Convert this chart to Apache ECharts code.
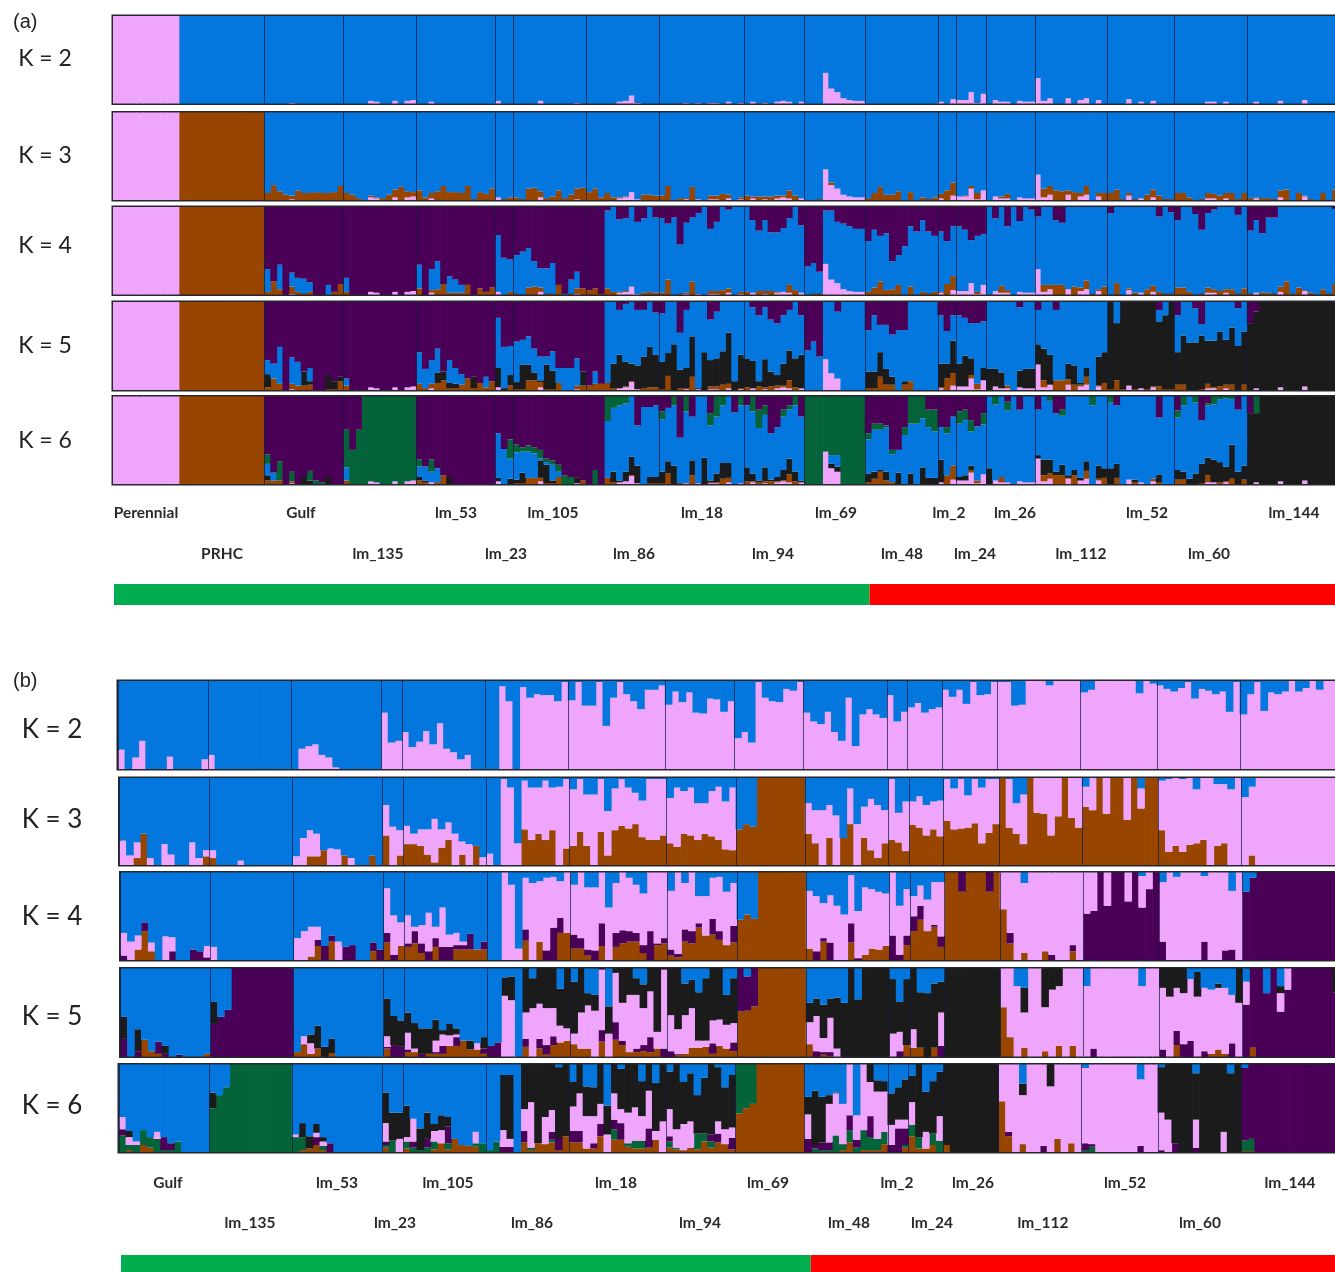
<!DOCTYPE html>
<html><head><meta charset="utf-8">
<style>html,body{margin:0;padding:0;background:#fff}#c{width:1335px;height:1272px}</style>
<script src="https://cdn.jsdelivr.net/npm/echarts@6/dist/echarts.min.js"></script>
</head><body><div id="c"></div>
<script>
// Populations in plot order (Perennial and PRHC only occur in panel a)
const populations=['Gulf','lm_135','lm_53','lm_23','lm_105','lm_86','lm_18','lm_94','lm_69','lm_48','lm_2','lm_24','lm_26','lm_112','lm_52','lm_60','lm_144'];
const popSizesA=[13,12,13,3,12,12,14,10,10,12,3,5,8,12,11,12,15];
const popSizesB=[13,12,13,3,12,12,14,10,10,12,3,5,8,12,11,12,14];
const leadSizes=[11,14]; // Perennial, PRHC

// All values below: cumulative top of a cluster in each individual's bar (%), one row per population.
// A single number means that value for every individual of the population.
const aPink=[[0,0,0,0,1],[0,0,0,0,3,2,0,0,3,0,3,4],[0,0,2],[3],[0,0,0,0,3,0,0,0,0,0,1],[0,0,0,0,0,2,3,9,1],[0,0,0,0,1,0,1,0,1,1,0,2,0,1],[0,2,0,1,0,2,3,2,0,2],[0,0,0,35,17,13,6,4,3,3],0,[2,0,5],[4,4,13,1,11],[0,4,2,2,0,3,2,2],[29,3,6,0,0,6,0,4,6,0,4,0],[0,0,0,5,0,2,0,3],[0,0,0,0,0,2,2,0,2],[0,2,0,0,0,3,0,0,0,4]];
const aK5Lm69Pink=[0,0,0,35,19,13];
const aK6Lm69Pink=[0,0,0,37,18,14];
const aK3Brown=[[8,17,10,6,5,11,8,8,9,8,8,9,16],[8,6,2,0,5,3,2,6,12,15,10,9],[11,3,8,10,16,9,9,8,16,1,9,7,13],[3,1,3],[3,1,13,14,10,2,4,11,2,6,13,14],[9,13,3,8,3,3,4,9,1,6,6,5],[5,16,0,2,2,15,1,0,5,5,7,6,0,3],[5,4,4,4,4,5,5,11,5,2],[0,0,1,35,20,13,6,4,3,3],[2,8,15,6,6,10,0,9,0,3,1,3],[7,11,20],[4,5,16,8,11],[0,4,4,7,0,3,2,2],[29,13,16,11,10,11,9,8,16,0,8,8],[8,12,1,8,1,2,6,12,5,1,1],[8,8,3,0,1,8,7,5,8,8,1,8],[2,3,2,2,1,11,12,0,8,5,1,0,8,0,12]];
const aK4Brown=[[3,15,6,0,9,3,1,3,0,0,0,3,12],[3],[7,0,5,6,12,2,2,2,11,0,7,3,8],[3,0,3],[1,0,8,9,8,1,1,11,0,1,7,7],[5,7,1,7,3,3,4,9,1,2,3,2],[2,17,0,1,2,15,1,0,4,4,5,7,0,3],[3,2,4,4,4,3,3,11,5,2],[0,1,1,0,0],[3,8,15,5,6,11,0,9,0,3,1,3],[3,12,21],[4,4,13,3,11],[0,2,10,5,0,3],[29,11,11,11,11,6,9,8,16,1,6,9],[0,13,0,7,2,2,6,10,3,1,1],[8,8,3,0,1,8,6,4,6,6,1,7],[1,2,2,2,1,9,15,1,8,5,2,0,6,1,12]];
const aK4Blue=[[29,15,34,0,25,19,18,14,0,0,11,3,12],[19],[34,0,29,38,12,21,17,11,11,0,7,3,8],[68,42,40],[45,49,53,38,30,30,36,11,1,17,26,7],[5,7,1,96,100,86,87,100,83,87,100,88],[87,81,88,57,82,88,93,100,75,83,100,97,100,100],[100,85,73,85,71,71,76,87,100,79],[32,36,26,96,96,83,81,78,75,75],[61,74,67,70,38,45,55,78,72,85,72,67],[72,61,78],[78,74,62,67,69],[100,87,100,78,100,84,100,97],[89,100,100,85,82,100,100,100,100,100,100,100],[93,100,100,100,100,100,100,100,89,100,94],[85,100,100,92,74,93,97,100,100,100,91,100],[73,85,70,88,88,100,100,100,100,100,100,100,100,100,98]];
const aK5Brown=[[3,13,7,0,7,5,5,6,0,0,1,1,10],[5],[7,2,7,8,11,2,2,6,13,2,8,3,10],[3,0,5],[1,1,11,11,9,1,1,8,0,0,5,5],[5,7,7,8,2,2,4,10,1,2,3,3],[1,16,0,2,2,15,1,0,4,4,6,7,0,2],[3,2,4,3,4,5,5,11,3,2],0,[2,2,15,6,6,0,6,10],[3,13,19],[4,4,17,7,11],[0,2,2,5,0,1,1,1],[29,11,5,11,11,12,6,6,15,0,5,8],[1,11,1,3,1,1,1,4,4,1,1],[6,6,0,0,1,7,3,4,6,6,0,6],[0,0,0,0,0,0,0,0,0,2]];
const aK5Black=[[18,13,7,0,7,5,21,10,0,0,17,10,15],[5],[7,2,7,20,21,8,7,6,13,15,8,3,10],[25,2,17],[9,29,29,20,11,29,22,8,0,0,5,21],[5,7,7,8,30,40,32,30,28,38,49,40],[32,42,52,23,25,61,2,43,34,36,44,65,10,40],[36,33,10,35,21,17,30,45,36,40],0,[21,21,43,24,15,0,10,10],[30,30,56],[30,39,36,7,25],[24,24,20,5,0,22,24,24],[52,47,40,11,11,30,28,8,25,0,38,43],[100,76,100,100,100,100,100,100,78,85,100],[43,62,54,54,62,56,56,66,57,71,50,66],[76,89,100,100,100,100,100,100,100,100,100,100,100,100,100]];
const aK5Blue=[[34,30,49,0,37,32,21,25,0,0,17,10,15],[13],[43,24,34,47,21,34,25,18,13,15,8,15,10],[82,49,50],[55,57,61,47,38,38,44,25,25,25,36,21],[5,21,7,100,100,91,98,100,91,91,100,88],[87,100,100,65,91,100,100,100,80,89,100,100,100,100],[100,94,85,94,80,76,85,91,100,85],[45,55,38,100,100,89,100,100,100,100],[68,85,74,74,63,68,68,100,100,100,100,100],[85,67,85],[85,82,76,76,78],[100,100,100,100,100,94,100,100],[91,100,100,91,100,100,100,100,100,100,100,100],[100,100,100,100,100,100,100,100,91,100,100],[85,100,100,93,75,100,100,100,100,100,93,100],[76,89,100,100,100,100,100,100,100,100,100,100,100,100,100]];
const aK6Brown=[[4,4,4,0,3],[4],[4,2,2,2,10],[3],[1,1,7,7,7,1,1,8,0,0,0,4],[0,0,0,7,2,1,2,10,1,0,1,1],[1,12,0,1,1,10,1,0,2,2,6,7,0,1],[3,3,2,3,3,3,4,11,3,1],0,[2,6,14,4,2],[0,10,21],[4,2,16,4,10],[0,2,8,0,0,2],[29,10,12,10,10,7,10,3,15,0,6,7],[0,7,0,3,2,1,0,6,2],[5,5,0,0,1,10,2,2,3,6,0,5],0];
const aK6Black=[[10,4,4,0,3,0,8,4,0,0,8],[4],[8,4,2,2,10,8],[7,0,6],[5,13,7,7,27,22,4,8,0,0,7,4],[0,0,0,7,14,4,14,31,21,0,8,8],[14,26,21,0,0,27,0,30,4,12,24,24,0,0],[19,12,4,19,5,8,16,29,14,4],[0,0,0,37,23,20],[12,14,16,14,0,13,0,12,0,19,7,7],[28,10,21],[8,10,21,0,0],[18,2,8,0,0,2],[33,28,28,14,22,10,16,7,26,0,21,18],[18,23,0,1,5,0,0,0,11],[16,14,6,12,23,30,28,25,20,45,14,21],[81,81,100,100,100,100,100,100,100,100,100,100,100,100,100]];
const aK6Blue=[[23,13,4,0,3,0,8,4,0,0,8],[19],[20,20,14,18,10,8],[58,40,29],[36,37,37,35,29,25,22,14,0,0,7,4],[0,0,0,72,87,90,92,100,67,88,88,90],[74,87,90,53,83,77,100,100,67,77,90,100,82,90],[90,83,64,79,58,65,77,85,90,77],[0,0,0,37,33,33],[51,62,62,65,34,39,56,69,69,75,65,60],[65,58,77],[69,73,60,66,68],[100,91,100,84,100,85,100,100],[85,100,95,81,78,100,100,100,100,90,100,100],[93,90,100,100,100,100,100,100,76,100,100],[76,90,100,93,73,90,91,97,98,97,85,100],[81,81,100,100,100,100,100,100,100,100,100,100,100,100,100]];
const aK6Green=[[34,13,26,0,14,0,8,15,4,2,8],[62,39,62,100,100,100,100,100,100,100,100,100],[28,20,28,18,10,8],[58,40,51],[45,42,44,42,39,29,27,22,10,8,7,4],[0,16,0,100,100,100,100,100,67,88,88,90],[83,87,100,53,100,77,100,100,81,100,100,100,82,100],[90,100,85,90,58,65,85,90,100,77],100,[58,69,69,67,39,39,65,100,100,100,85,85],[65,65,77],[83,85,73,66,81],[100,100,100,94,100,85,100,100],[85,100,100,81,85,100,100,100,100,100,100,100],[100,90,100,100,100,100,100,100,76,100,100],[84,100,100,100,73,92,100,100,100,100,85,100],[81,100,100,100,100,100,100,100,100,100,100,100,100,100,100]];

const bK2Pink=[[22,0,13,32,0,0,0,14,0,0,0,0,11],[16],[0,23,26,28,16,13,2],[64,30,32],[42,25,31,43,28,52,23,19,11,16],[0,0,94,77,0,93,81,85,84,84,77,99],[78,99,72,72,99,49,81,99,85,77,68,90,90,95],[73,88,76,87,64,63,80,79,65,77],[35,42,30,99,81,77,76,91,89,99],[64,54,51,65,42,32,81,26,62,68,62,58],[84,54,65],[70,75,64,68,70],[90,82,90,74,99,84,85,99],[99,99,72,73,100,100,100,95,100,100,100,100],[87,90,100,100,100,100,100,100,86,100,97],[95,91,88,92,99,80,91,89,85,88,65,99],[62,85,99,66,87,85,88,100,88,92,100,90,100,100]];
const bK3Brown=[[0,0,8,36,0,0,0,0,0,0,0,0,10],[8],[0,0,10,10,17,0,0,11,0,0,0,11],[34,0,11],[24,24,22,12,3,20,29,0,12,0,22],[0,0,0,0,0,41,29,36,29,40,0,19],[22,38,22,0,38,11,40,45,42,47,32,29,29,34],[25,21,36,34,29,36,33,29,18,17],[41,47,44,100,100,100,100,100,100,100],[36,25,0,31,0,31,47,0,31,17,8,25],[29,26,16],[46,43,34,41,33],[51,41,42,43,48,25,37,47],[100,43,36,24,100,60,59,34,56,100,54,43],[67,63,100,59,100,100,52,100,65,100,100],[40,15,22,15,23,25,29,0,22,25],[0,11]];
const bK3Pink=[[28,11,26,36,8,0,24,12,0,0,26,8,17],[17,0,0,0,5],[10,31,40,36,17,19,18,11,8,0,0,11],[69,44,40],[45,36,41,41,53,41,49,36,27,24,22,9],[13,0,99,89,25,97,89,89,97,89,90,99],[87,99,81,81,99,62,88,99,89,83,74,99,99,99],[77,89,85,89,71,71,85,90,73,89],0,[71,63,63,69,57,31,88,47,67,76,69,63],[99,60,73],[73,79,69,73,74],[99,88,99,80,99,89,99,99],[100,99,71,81,100,100,100,100,100,100,100,100],[90,100,100,100,100,100,100,100,88,100,100],[97,99,100,99,100,87,100,100,93,93,87,100],[78,90,100,100,100,100,100,100,100,100,100,100,100,100]];
const bK4Brown=[[0,0,12,33,10],0,[0,0,4,16,0,21,0,0,0,0,0,10],[20,0,16],[15,19,8,0,15,0,0,12,12,12,12,12],[0,0,0,0,0,22,0,21,0,0,31,31],[13,13,5,0,16,0,15,19,21,21,8,0,17,19],[5,3,21,19,37,28,29,23,17,20],[46,52,47,100,100,100,100,100,100,100],[13,0,21,0,0,0,20,0,6,13,12,16],[0,0,17],[33,46,33,38,15],[100,100,78,100,100,100,78,100],[58,19,0,8,0,0,10,0,0,0,10],0,0,0];
const bK4Purple=[[5,0,12,43,10,0,0,10,0,0,12,10,3],0,[0,0,4,23,16,28,0,15,17,0,0,20,12],[31,6,16],[19,33,19,10,25,15,15,17,17,30,12,21],[0,0,0,0,0,35,0,21,11,37,48,31],[29,25,12,11,42,0,31,34,33,31,17,33,19,25],[12,7,35,33,42,28,47,33,17,39],0,[13,10,25,20,0,0,42,2,6,13,12,16],[28,6,28],[50,62,33,40,27],100,[58,31,0,8,0,0,10,6,0,0,17],[53,56,100,62,100,100,67,100,60,81,100],[21,0,0,0,0,0,21,0,0,11,12],[78,94,100,100,100,100,100,100,100,100,100,100,100,100]];
const bK4Pink=[[31,21,28,43,20,0,27,26,0,0,12,10,16],[15],[25,33,38,38,16,28,21,15,17,0,0,20,12],[82,51,43],[51,38,40,54,38,60,29,31,21,30,12,21],[0,0,100,86,13,94,88,90,94,95,90,100],[86,100,83,83,100,60,88,100,94,86,76,100,100,100],[79,100,88,100,73,73,94,95,78,88],0,[79,73,65,74,62,52,97,56,83,81,78,76],[100,62,81],[73,85,69,89,89],0,[100,100,100,88,100,100,100,100,100,100,100,100],[100,100,100,100,100,100,100,100,96,100,100],[89,100,95,100,100,100,96,100,100,100,79,100],[78,94,100,100,100,100,100,100,100,100,100,100,100,100]];
const bK5Brown=[[0,0,0,19,6,3,0,0,0,0,0,0,3],0,[5,14,3,9,0,4],[9],[5,5,0,3,3,3,12,12,18,8,8,3],[0,0,0,0,0,11,0,9,2,13,16,18],[14,9,9,0,17,0,19,13,5,5,6,5,9,0],[0,2,3,10,10,11,3,12,9,6],[51,52,57,100,100,100,100,100,100,100],[14,0,2,1],[0,0,13],[10,10,0,10,0],0,[56,22,0,10,0,0,6,0,12,0,12],0,[0,0,13,0,0,0,0,3,8,3],[0,10]];
const bK5Purple=[[20,0,6,19,6,17,3,0,2,0,0,0,3],[37,45,53,100,100,100,100,100,100,100,100,100],[5,14,3,9,0,4],[11,13,11],[8,5,3,3,5,12,12,22,18,8,8,9],[12,16,0,0,0,20,0,20,13,23,16,18],[14,9,9,0,30,0,39,18,5,9,13,22,9,9],[6,3,3,10,10,11,15,12,9,16],[100,91,100,100,100,100,100,100,100,100],[14,6,5,5],[0,6,0],[10,10,0,10,12],0,0,[0,9],[8,0,29,14,18,0,6,3,8,3,15],[59,100,100,72,100,51,76,100,100,100,100,100,100,73]];
const bK5Pink=[[20],0,[5,23,15,9,0,4],[23,13,11],[27,9,3,3,18,25,24,25,18,8,15,9],[12,16,69,64,0,50,55,60,55,55,35,32],[26,50,58,52,99,26,95,61,70,70,55,74,28,99],[47,31,47,55,18,18,41,42,36,38],0,[39,46,21,44,9],[26,28,13],[31,10,0,10,50],0,[100,100,80,50,100,100,56,76,80,100,100,100],[80,100,100,100,100,100,100,100,80,100,100],[78,68,78,72,88,68,78,76,78,78,70,61],[85,100,100,72,100,72,100,100,100,100,100,100,100,73]];
const bK5Black=[[45,0,31,19,6,17,12,0,2,0,0,0,3],[62,45,53,100,100,100,100,100,100,100,100,100],[5,23,25,35,11,20],[66,46,41],[50,38,32,32,42,30,37,32,18,18,15,22],[12,16,90,91,0,100,89,100,100,100,77,100],[85,100,72,70,100,57,100,100,100,89,82,100,100,100],[100,100,83,87,73,89,100,100,70,89],0,[61,66,59,66,67,61,100,65,100,100,100,100],[88,62,88],[100,73,72,83,85],100,[100,100,80,78,100,100,100,100,100,100,100,100],0,[100,100,100,100,88,96,78,76,83,78,70,100],[85,100,100,72,100,80,100,100,100,100,100,100,100,100]];
const bK6Brown=[[0,2,0,8,5],0,[0,2,4,8,2],[5],[4,0,0,0,3,10,3,15,8,7,6],[0,0,0,0,0,11,2,10,9,11,2,18],[11,11,4,4,18,0,14,14,6,4,4,5,14,0],[5,3,2,5,3,12,5,11,9,3],[44,50,55,100,100,100,100,100,100,100],[0,0,0,0,0,2,11,0,2,2,2,9],[0,0,5],[18,4,4,8,0],[8],[58,18,0,9,0,0,0,0,15,0,10],0,0,[1,1]];
const bK6Green=[[19,8,8,25,17,15,2,2,12],[50,65,74,100,100,100,100,100,100,100,100,100],[17,17,4,8,7],[8,13],[12,5,2,5,12,10,10,15,8,7,10,10],[2,12,0,0,0,11,5,10,9,14,2,18],[11,11,4,4,18,0,26,14,10,13,13,5,14,0],[12,5,2,5,21,21,12,11,9,3],100,[0,4,2,2,19,9,25,5,25,17,15,23],[0,0,8],[31,17,4,21,13],0,0,[2,6],0,[13,15]];
const bK6Purple=[[26,8,8,25,17,15,17,10,12],0,[17,17,4,17,7,10],[12,13,0],[12,12,2,15,12,10,29,15,8,7,10,10],[0,0,6,6,0,24,5,10,9,23,16,18],[24,24,4,10,32,0,37,33,10,13,13,27,14,0],[18,5,2,5,21,21,20,21,9,16],0,[15,8,11,11,19,9,42,14,25,41,15,23],[8,27,27],[31,17,4,21,13],0,[58,23,0,9,0,0,7,0,15,0,10],[10,9,0,0,0,0,0,0,7],[2,0,10,0,0,5],[96,100,100,100,100,100,100,100,100,100,100,100,100,100]];
const bK6Pink=[[40,17,12,25,17,23,17,10,12],0,[20,17,4,22,12,10],[33,13,15],[17,38,2,15,24,25,29,15,8,7,23,10],[2,12,25,15,0,49,57,10,40,48,16,18],[52,67,41,41,55,20,67,49,45,51,41,70,24,35],[49,26,32,35,21,21,20,35,26,28],0,[43,8,11,55,67,55,100,42,100,80,69,69],[31,37,37],[57,17,23,21,41],0,[100,100,100,65,100,100,100,75,100,100,100,100],[96,100,100,100,100,100,100,100,83,100,100],[45,37,10,0,0,37,0,0,0,23],[96,100,100,100,100,100,100,100,100,100,100,100,100,100]];
const bK6Black=[[40,24,12,25,17,23,17,10,12],[68,65,74,100,100,100,100,100,100,100,100,100],[20,33,18,32,17,10],[68,45,45],[53,38,27,45,32,42,40,15,8,7,23,10],[2,12,88,88,0,100,100,100,100,100,97,100],[80,100,75,74,100,53,100,95,100,100,81,100,79,100],[92,100,80,90,65,85,100,97,74,88],0,[63,70,63,65,68,55,100,42,100,100,82,81],[67,74,83],[87,100,69,81,92],100,[100,100,100,78,100,100,100,100,100,100,100,100],0,[97,100,100,100,100,90,100,100,100,100,90,100],[96,100,100,100,100,100,100,100,100,100,100,100,100,100]];

const statusCountsA=[125,77];
const statusCountsB=[100,76];
const kLabels=['K = 2','K = 3','K = 4','K = 5','K = 6'];
const labelsRowA1=['Perennial','Gulf','lm_53','lm_105','lm_18','lm_69','lm_2','lm_26','lm_52','lm_144'];
const labelsRowA2=['PRHC','lm_135','lm_23','lm_86','lm_94','lm_48','lm_24','lm_112','lm_60'];
const labelsRowB1=['Gulf','lm_53','lm_105','lm_18','lm_69','lm_2','lm_26','lm_52','lm_144'];
const labelsRowB2=['lm_135','lm_23','lm_86','lm_94','lm_48','lm_24','lm_112','lm_60'];

// ---- styling / layout ----
const C={pink:'#EFA5FB',brown:'#984500',blue:'#0377DD',purple:'#4B0057',black:'#1B1B1B',green:'#05633A',okGreen:'#00AE4F',red:'#FF0000'};
const labelXA1=[146,301,456,553,702,836,949,1015,1147,1294], labelXA2=[222,378,506,634,773,902,975,1081,1209];
const labelXB1=[168,337,448,616,768,897,973,1125,1290], labelXB2=[250,395,532,700,849,932,1043,1200];
const rowsA=[[113,16,103.5],[113,112.5,200],[113,207,294.5],[113,302,390],[113,396.5,484]];
const rowsB=[[118,681,769],[119.5,778,865],[120.5,872.5,960],[120.5,968.5,1056.5],[119,1064.5,1152]];
const kYA=[59,156,246,346,441], kYB=[730,820,917,1017,1106];
const barA=6.065, barB=6.926;

function expand(rows,sizes){
  return rows.flatMap((p,i)=>{
    const n=sizes[i];
    if(typeof p==='number') return Array(n).fill(p);
    const o=p.slice(0,n); while(o.length<n) o.push(0); return o;
  });
}
const aPinkK5=[...aPink.slice(0,8),aK5Lm69Pink,...aPink.slice(9)];
const aPinkK6=[...aPink.slice(0,8),aK6Lm69Pink,...aPink.slice(9)];
const panelsA=[
 {layers:[['pink',aPink]],rest:'blue'},
 {layers:[['pink',aPink],['brown',aK3Brown]],rest:'blue'},
 {layers:[['pink',aPink],['brown',aK4Brown],['blue',aK4Blue]],rest:'purple'},
 {layers:[['pink',aPinkK5],['brown',aK5Brown],['black',aK5Black],['blue',aK5Blue]],rest:'purple'},
 {layers:[['pink',aPinkK6],['brown',aK6Brown],['black',aK6Black],['blue',aK6Blue],['green',aK6Green]],rest:'purple'}
];
const panelsB=[
 {layers:[['pink',bK2Pink]],rest:'blue'},
 {layers:[['brown',bK3Brown],['pink',bK3Pink]],rest:'blue'},
 {layers:[['brown',bK4Brown],['purple',bK4Purple],['pink',bK4Pink]],rest:'blue'},
 {layers:[['brown',bK5Brown],['purple',bK5Purple],['pink',bK5Pink],['black',bK5Black]],rest:'blue'},
 {layers:[['brown',bK6Brown],['green',bK6Green],['purple',bK6Purple],['pink',bK6Pink],['black',bK6Black]],rest:'blue'}
];
const grid=[],xAxis=[],yAxis=[],series=[],graphic=[];
function addPanel(p,row,sizes,barW,lead,tag){
  const gi=grid.length;
  const nLead=lead?leadSizes[0]+leadSizes[1]:0;
  const tops=p.layers.map(([name,rows])=>{
    const v=expand(rows,sizes);
    if(!lead) return v;
    const head=name==='pink'?[...Array(leadSizes[0]).fill(100),...Array(leadSizes[1]).fill(0)]
              :name==='brown'?Array(nLead).fill(100):Array(nLead).fill(0);
    return head.concat(v);
  });
  const n=tops[0].length;
  const cats=Array.from({length:n},(_,i)=>i);
  const boundaries=new Set(); let acc=nLead;
  sizes.forEach(s=>{boundaries.add(acc);acc+=s;});
  grid.push({left:row[0],top:row[1],width:n*barW,height:row[2]-row[1],outerBoundsMode:'none',show:true,borderColor:'#26262e',borderWidth:3,backgroundColor:'transparent'});
  xAxis.push({type:'category',gridIndex:gi,data:cats,z:6,axisLine:{show:false},axisTick:{show:false},axisLabel:{show:false},
    splitLine:{show:true,interval:(i)=>boundaries.has(i),lineStyle:{color:'rgba(18,28,60,.72)',width:1}}});
  yAxis.push({type:'value',gridIndex:gi,min:0,max:100,show:false});
  const prev=Array(n).fill(0);
  const addS=(name,topArr)=>{
    const d=topArr.map((t,i)=>{const v=Math.max(0,t-prev[i]); prev[i]=Math.max(prev[i],t); return v>0?v:null;});
    series.push({type:'bar',name:tag+' '+name,xAxisIndex:gi,yAxisIndex:gi,stack:tag,barCategoryGap:0,barMinWidth:barW+0.7,data:d,
      itemStyle:{color:C[name]},silent:true});
  };
  p.layers.forEach(([name],k)=>addS(name,tops[k]));
  addS(p.rest,Array(n).fill(100));
}
panelsA.forEach((p,i)=>addPanel(p,rowsA[i],popSizesA,barA,true,'a'+kLabels[i]));
panelsB.forEach((p,i)=>addPanel(p,rowsB[i],popSizesB,barB,false,'b'+kLabels[i]));

function addStatus(counts,left,top,w,h,tag){
  const gi=grid.length;
  grid.push({left,top,width:w,height:h,outerBoundsMode:'none'});
  xAxis.push({type:'value',gridIndex:gi,min:0,max:counts[0]+counts[1],show:false});
  yAxis.push({type:'category',gridIndex:gi,data:['status'],show:false});
  [['okGreen',counts[0]],['red',counts[1]]].forEach(([c,v])=>series.push({type:'bar',name:tag+c,xAxisIndex:gi,yAxisIndex:gi,stack:tag,barWidth:'100%',data:[v],itemStyle:{color:C[c]},silent:true}));
}
addStatus(statusCountsA,114,584,1221,21,'sa');
addStatus(statusCountsB,121,1255,1214,17,'sb');

function txt(s,x,y,font,size,weight,color,align){
  graphic.push({type:'text',x,y,style:{text:s,font:`${weight} ${size}px ${font}`,fill:color,textAlign:align||'center',textVerticalAlign:'middle'},silent:true});
}
const popFont='Lato, "Open Sans", sans-serif';
labelsRowA1.forEach((s,i)=>txt(s,labelXA1[i],513,popFont,15.5,700,'#2a2a2a'));
labelsRowA2.forEach((s,i)=>txt(s,labelXA2[i],554,popFont,15.5,700,'#2a2a2a'));
labelsRowB1.forEach((s,i)=>txt(s,labelXB1[i],1183,popFont,15.5,700,'#2a2a2a'));
labelsRowB2.forEach((s,i)=>txt(s,labelXB2[i],1223,popFont,15.5,700,'#2a2a2a'));
kLabels.forEach((s,i)=>{txt(s,45,kYA[i],popFont,23,400,'#222');txt(s,52,kYB[i],popFont,26,400,'#222');});
txt('(a)',13,22,'"Liberation Sans", Arial, sans-serif',20,400,'#222','left');
txt('(b)',13,681,'"Liberation Sans", Arial, sans-serif',20,400,'#222','left');

const chart=echarts.init(document.getElementById('c'),null,{renderer:'canvas',width:1335,height:1272});
chart.setOption({animation:false,backgroundColor:'#fff',grid,xAxis,yAxis,series,graphic,tooltip:{show:false},legend:{show:false}});
</script></body></html>
